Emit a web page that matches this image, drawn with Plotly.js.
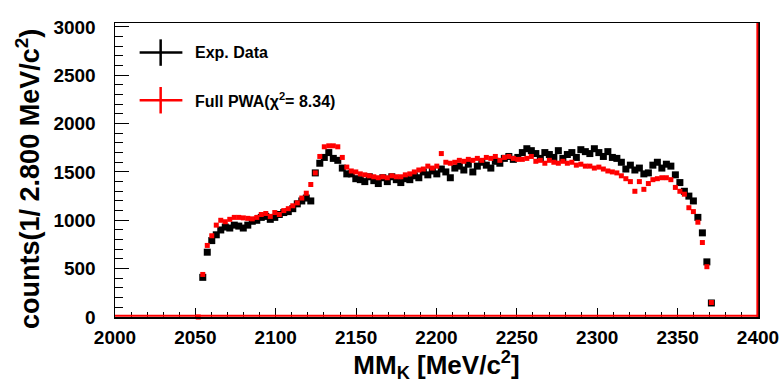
<!DOCTYPE html>
<html>
<head>
<meta charset="utf-8">
<script src="https://cdn.plot.ly/plotly-3.0.1.min.js"></script>
<style>html,body{margin:0;padding:0;background:#fff;}#chart{width:784px;height:383px;}</style>
</head>
<body>
<div id="chart"></div>
<script>
// Bin centres (bin width 2.8 MeV/c^2)
const binCenters = [
  2054.6,2057.4,2060.2,2063.0,2065.8,2068.6,2071.4,2074.2,2077.0,2079.8,
  2082.6,2085.4,2088.2,2091.0,2093.8,2096.6,2099.4,2102.2,2105.0,2107.8,
  2110.6,2113.4,2116.2,2119.0,2121.8,2124.6,2127.4,2130.2,2133.0,2135.8,
  2138.6,2141.4,2144.2,2147.0,2149.8,2152.6,2155.4,2158.2,2161.0,2163.8,
  2166.6,2169.4,2172.2,2175.0,2177.8,2180.6,2183.4,2186.2,2189.0,2191.8,
  2194.6,2197.4,2200.2,2203.0,2205.8,2208.6,2211.4,2214.2,2217.0,2219.8,
  2222.6,2225.4,2228.2,2231.0,2233.8,2236.6,2239.4,2242.2,2245.0,2247.8,
  2250.6,2253.4,2256.2,2259.0,2261.8,2264.6,2267.4,2270.2,2273.0,2275.8,
  2278.6,2281.4,2284.2,2287.0,2289.8,2292.6,2295.4,2298.2,2301.0,2303.8,
  2306.6,2309.4,2312.2,2315.0,2317.8,2320.6,2323.4,2326.2,2329.0,2331.8,
  2334.6,2337.4,2340.2,2343.0,2345.8,2348.6,2351.4,2354.2,2357.0,2359.8,
  2362.6,2365.4,2368.2,2371.0
];
// Experimental data counts
const expData = [
  410,670,790,850,900,930,920,950,940,920,
  950,990,1000,1030,1040,1010,1030,1060,1080,1090,
  1120,1170,1200,1230,1200,1490,1590,1650,1700,1640,
  1620,1540,1480,1480,1430,1420,1400,1450,1410,1380,
  1440,1400,1450,1420,1390,1430,1420,1460,1440,1500,
  1470,1510,1480,1530,1500,1440,1540,1560,1520,1580,
  1500,1560,1600,1570,1540,1610,1590,1640,1660,1630,
  1650,1700,1740,1720,1690,1640,1700,1680,1650,1720,
  1640,1680,1700,1650,1730,1710,1690,1740,1700,1660,
  1710,1650,1640,1600,1530,1570,1520,1540,1480,1490,
  1570,1600,1540,1580,1560,1470,1390,1300,1250,1200,
  1030,870,570,145
];
// Full PWA fit: extra first bin centre (empty bin) plus the same centres
const pwaCenters = [2051.8].concat(binCenters);
const pwaFit = [
  0,
  440,740,840,950,1000,985,1010,1030,1030,1025,
  1020,1015,1030,1060,1070,1040,1080,1060,1100,1120,
  1150,1180,1230,1280,1370,1490,1660,1760,1770,1770,
  1760,1650,1550,1510,1500,1480,1470,1460,1450,1440,
  1450,1440,1460,1450,1450,1470,1480,1500,1520,1530,
  1560,1540,1560,1690,1600,1590,1600,1620,1610,1630,
  1620,1640,1620,1650,1640,1660,1620,1650,1660,1640,
  1630,1630,1640,1660,1610,1620,1590,1620,1600,1590,
  1610,1590,1600,1570,1580,1560,1560,1540,1550,1530,
  1510,1500,1490,1460,1430,1400,1300,1400,1320,1380,
  1420,1430,1440,1440,1420,1340,1300,1270,1130,1090,
  980,770,520,150
];
const legendLabels = ["Exp. Data", "Full PWA(&#967;<sup>2</sup>= 8.34)"];
const xTitle = "MM<sub>K</sub> [MeV/c<sup>2</sup>]";
const yTitle = "counts(1/ 2.800 MeV/c<sup>2</sup>)";

const FONT = "Liberation Sans, Arial, Helvetica, sans-serif";

const traces = [
  {
    type: "scatter", mode: "markers", x: binCenters, y: expData,
    name: legendLabels[0], showlegend: false, cliponaxis: true,
    marker: {symbol: "square", size: 7, color: "#000000"}
  },
  {
    type: "scatter", mode: "markers", x: pwaCenters, y: pwaFit,
    name: "Full PWA", showlegend: false, cliponaxis: false,
    marker: {symbol: "square", size: 5, color: "#ff0000"}
  }
];

// legend geometry (paper coords)
const lgX0 = 0.0383, lgX1 = 0.1048, lgXc = 0.0710, lgText = 0.1208;
const lgY = [0.8994, 0.7373], lgH = 0.045;
const lgCol = ["#000000", "#ff0000"];
const shapes = [];
for (let i = 0; i < 2; i++) {
  shapes.push({type:"line", xref:"paper", yref:"paper", x0:lgX0, x1:lgX1, y0:lgY[i], y1:lgY[i], line:{color:lgCol[i], width:2.5}});
  shapes.push({type:"line", xref:"paper", yref:"paper", x0:lgXc, x1:lgXc, y0:lgY[i]-lgH, y1:lgY[i]+lgH, line:{color:lgCol[i], width:2.5}});
}
// red histogram outline along the bottom and right frame
shapes.push({type:"line", xref:"paper", yref:"paper", x0:0, x1:1, y0:0.004, y1:0.004, line:{color:"#ff0000", width:2}});
shapes.push({type:"line", xref:"paper", yref:"paper", x0:0.999, x1:0.999, y0:0, y1:1, line:{color:"#ff0000", width:2}});

const annotations = legendLabels.map((t, i) => ({
  xref:"paper", yref:"paper", x:lgText, y:lgY[i], xanchor:"left", yanchor:"middle",
  text:t, showarrow:false, font:{family:FONT, size:16, color:"#000", weight:"bold"}
}));
// y-axis title as a rotated annotation for exact placement
annotations.push({
  xref:"paper", yref:"paper", x:-0.1345, y:0.468, xanchor:"center", yanchor:"middle",
  textangle:-90, text:yTitle, showarrow:false,
  font:{family:FONT, size:27, color:"#000", weight:"bold"}
});

const layout = {
  width: 784, height: 383,
  margin: {l:115, r:26, t:23, b:66},
  paper_bgcolor: "#fff", plot_bgcolor: "#fff",
  showlegend: false,
  font: {family: FONT, color: "#000"},
  xaxis: {
    range: [2000, 2400], tick0: 2000, dtick: 50,
    ticks: "inside", ticklen: 9, tickwidth: 1, tickcolor: "#000",
    minor: {dtick: 10, ticks: "inside", ticklen: 5, tickcolor: "#000"},
    showline: true, linecolor: "#000", linewidth: 1.5, mirror: true,
    showgrid: false, zeroline: false,
    tickfont: {family: FONT, size: 19, weight: "bold", color:"#000"},
    ticklabelstandoff: 3,
    title: {text: xTitle, font: {family: FONT, size: 26, weight: "bold", color:"#000"}, standoff: 2}
  },
  yaxis: {
    range: [0, 3040], tick0: 0, dtick: 500,
    ticks: "inside", ticklen: 14, tickwidth: 1, tickcolor: "#000",
    minor: {dtick: 100, ticks: "inside", ticklen: 8, tickcolor: "#000"},
    showline: true, linecolor: "#000", linewidth: 1.5, mirror: true,
    showgrid: false, zeroline: false,
    tickfont: {family: FONT, size: 19, weight: "bold", color:"#000"},
    ticklabelstandoff: 14
  },
  shapes: shapes,
  annotations: annotations
};

Plotly.newPlot("chart", traces, layout, {staticPlot: true, displayModeBar: false});
</script>
</body>
</html>
